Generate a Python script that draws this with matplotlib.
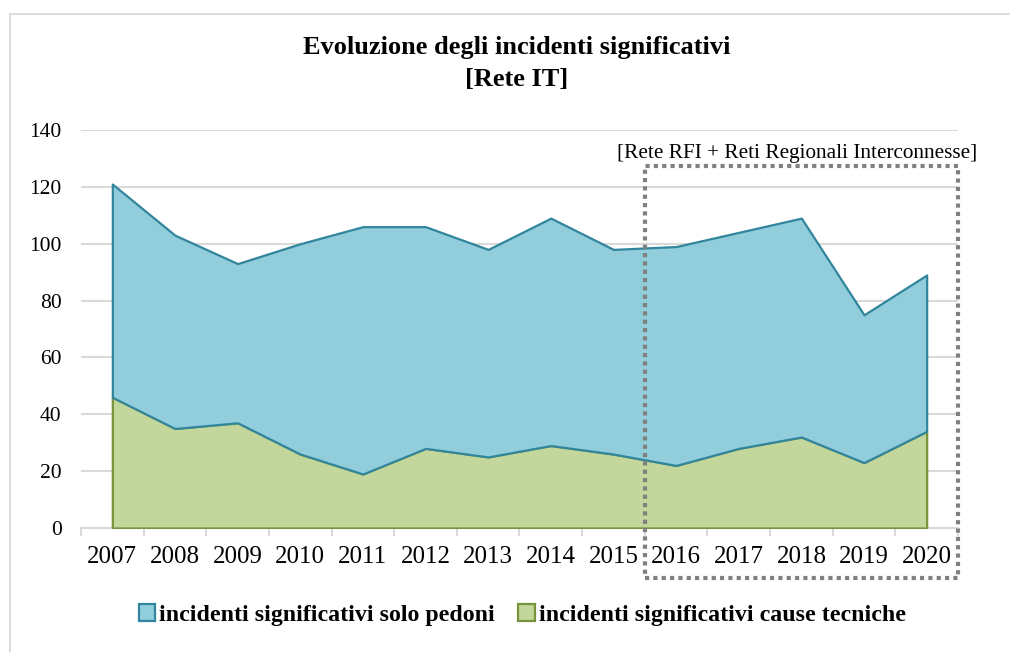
import numpy as np
import matplotlib
matplotlib.use("Agg")
import matplotlib.pyplot as plt
from matplotlib.patches import Rectangle, Patch
from matplotlib.ticker import FixedLocator

plt.rcParams['font.family'] = ['Liberation Serif', 'DejaVu Serif']

anni = ['2007', '2008', '2009', '2010', '2011', '2012', '2013',
        '2014', '2015', '2016', '2017', '2018', '2019', '2020']
cause_tecniche = [46, 35, 37, 26, 19, 28, 25, 29, 26, 22, 28, 32, 23, 34]
solo_pedoni = [75, 68, 56, 74, 87, 78, 73, 80, 72, 77, 76, 77, 52, 55]

col_blu = '#92CDDC'
bordo_blu = '#31859C'
col_verde = '#C3D69B'
bordo_verde = '#77933C'
grigio = '#D9D9D9'

x = np.arange(len(anni))
tecn = np.array(cause_tecniche)
totale = tecn + np.array(solo_pedoni)

fig = plt.figure(figsize=(10.10, 6.52), dpi=100)
ax = fig.add_axes([0.0802, 0.1902, 0.8683, 0.6104])

# cornice esterna grigia
fig.patches.append(Rectangle((0.0099, -0.2), 1.5, 1.2 - 0.0215, transform=fig.transFigure,
                             fill=False, edgecolor='#D9D9D9', linewidth=1.3))

ax.fill_between(x, 0, tecn, facecolor=col_verde, edgecolor=bordo_verde, linewidth=1.6, zorder=2)
ax.fill_between(x, tecn, totale, facecolor=col_blu, edgecolor=bordo_blu, linewidth=1.6, zorder=3)

ax.set_xlim(-0.5, len(anni) - 0.5)
ax.set_ylim(0, 140)
ax.set_yticks(np.arange(0, 141, 20))
ax.set_xticks(x)
ax.set_xticklabels(anni)
ax.xaxis.set_minor_locator(FixedLocator(np.arange(-0.5, len(anni), 1.0)))

ax.grid(axis='y', color=grigio, linewidth=1.5, zorder=0)
ax.set_axisbelow(True)
for s in ['top', 'right', 'left']:
    ax.spines[s].set_visible(False)
ax.spines['bottom'].set_color(grigio)
ax.spines['bottom'].set_linewidth(1.5)
ax.spines['bottom'].set_zorder(1)

ax.tick_params(axis='x', which='major', length=0, pad=13, labelsize=18)
ax.tick_params(axis='x', which='minor', length=6, width=1.5, color=grigio)
ax.tick_params(axis='y', length=0, pad=14, labelsize=15.5)

# titolo
fig.text(0.512, 0.902, 'Evoluzione degli incidenti significativi\n[Rete IT]',
         ha='center', va='center', fontsize=19, fontweight='bold', linespacing=1.5)

# riquadro tratteggiato per il periodo RFI + reti regionali
trans = ax.get_xaxis_transform()
ax.add_patch(Rectangle((8.5, -0.1256), 5.0, 1.035, transform=trans, fill=False,
                       edgecolor='#808080', linewidth=3, linestyle=(0, (1, 1)),
                       clip_on=False, zorder=5))
ax.text(13.8, 0.942, '[Rete RFI + Reti Regionali Interconnesse]', transform=trans,
        ha='right', va='center', fontsize=15.3)

handles = [Patch(facecolor=col_blu, edgecolor=bordo_blu, linewidth=1.6),
           Patch(facecolor=col_verde, edgecolor=bordo_verde, linewidth=1.6)]
fig.legend(handles, ['incidenti significativi solo pedoni', 'incidenti significativi cause tecniche'],
           loc='center', bbox_to_anchor=(0.517, 0.057), ncol=2, frameon=False,
           prop={'weight': 'bold', 'size': 17.2}, handlelength=0.7, handleheight=0.7,
           handletextpad=0.15, columnspacing=1.0)

fig.savefig('out.png', dpi=100)
